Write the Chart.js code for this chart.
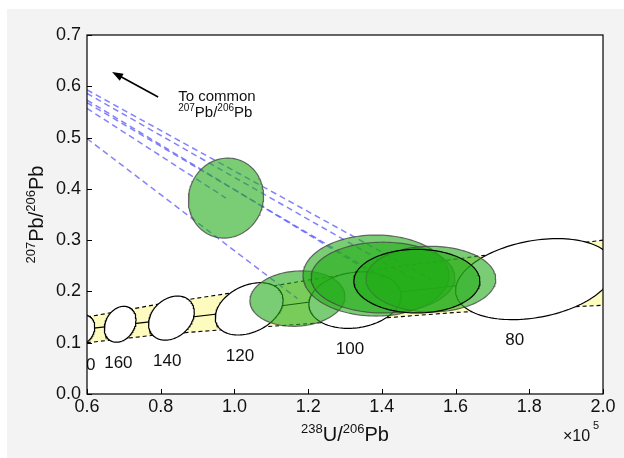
<!DOCTYPE html>
<html>
<head>
<meta charset="utf-8">
<script src="https://cdn.jsdelivr.net/npm/chart.js@4.4.1/dist/chart.umd.min.js"></script>
<style>
  html, body { margin: 0; padding: 0; background: #fff; }
  #wrap { width: 624px; height: 458px; }
</style>
</head>
<body>
<div id="wrap"><canvas id="tw"></canvas></div>
<script>
// Tera-Wasserburg concordia with common-Pb projections

// ─── Data ─────────────────────────────────────────────────────────────────────

const xTickValues = [0.6, 0.8, 1.0, 1.2, 1.4, 1.6, 1.8, 2.0];
const yTickValues = [0.0, 0.1, 0.2, 0.3, 0.4, 0.5, 0.6, 0.7];

// concordia envelope and centre line (x in units of 1e5)
const bandX     = [0.6, 0.8, 1.0, 1.2, 1.4, 1.6, 1.8, 2.0];
const bandUpper = [0.150, 0.176, 0.198, 0.222, 0.244, 0.263, 0.282, 0.300];
const bandLower = [0.100, 0.116, 0.127, 0.137, 0.148, 0.159, 0.166, 0.173];
const bandMid   = [0.127, 0.143, 0.160, 0.179, 0.195, 0.211, 0.224, 0.236];

// age markers on the concordia
const ages   = [180, 160, 140, 120, 100, 80];
const ageX   = [0.586, 0.690, 0.829, 1.040, 1.327, 1.815];
const ageY   = [0.125, 0.136, 0.148, 0.166, 0.183, 0.224];
const ageSx  = [0.035, 0.043, 0.062, 0.092, 0.125, 0.215];
const ageSy  = [0.029, 0.035, 0.043, 0.051, 0.055, 0.079];
const ageRho = [0.20, 0.24, 0.27, 0.33, 0.15, 0.28];

// analyses (error ellipses)
const spotX   = [0.977, 1.171, 1.384, 1.403, 1.495, 1.533];
const spotY   = [0.382, 0.186, 0.231, 0.227, 0.220, 0.224];
const spotSx  = [0.102, 0.129, 0.198, 0.195, 0.171, 0.176];
const spotSy  = [0.078, 0.054, 0.079, 0.069, 0.062, 0.064];
const spotRho = [0.05, 0.08, 0.0, 0.0, 0.0, 0.0];

// projection towards common Pb: y reached at the left axis for each analysis
const commonX = 0.6;
const commonY = [0.557, 0.498, 0.573, 0.568, 0.586, 0.593];

// arrow annotation
const arrowTail = [0.793, 0.579];
const arrowHead = [0.668, 0.628];

const highlightSpot = 4;   // the one drawn with a black rim

// ─── Helpers ──────────────────────────────────────────────────────────────────

const FONT = "'Liberation Sans', Arial, sans-serif";

function ellipsePts(cx, cy, sx, sy, rho, n = 140) {
  const pts = [];
  const k = Math.sqrt(1 - rho * rho);
  for (let i = 0; i <= n; i++) {
    const t = (i / n) * Math.PI * 2;
    pts.push({ x: cx + sx * Math.cos(t), y: cy + sy * (rho * Math.cos(t) + k * Math.sin(t)) });
  }
  return pts;
}

function zip(xs, ys) {
  return xs.map((x, i) => ({ x, y: ys[i] }));
}

function drawRich(ctx, parts, x, y, size, supSize, align) {
  const w = parts.reduce((s, p) => {
    ctx.font = `${p.sup ? supSize : size}px ${FONT}`;
    return s + ctx.measureText(p.t).width;
  }, 0);
  let cx = align === 'center' ? x - w / 2 : x;
  ctx.textAlign = 'left';
  ctx.textBaseline = 'alphabetic';
  parts.forEach(p => {
    ctx.font = `${p.sup ? supSize : size}px ${FONT}`;
    ctx.fillText(p.t, cx, p.sup ? y - size * 0.38 : y);
    cx += ctx.measureText(p.t).width;
  });
}

// ─── Datasets ─────────────────────────────────────────────────────────────────

const datasets = [];

datasets.push({
  data: zip(bandX, bandUpper),
  borderColor: '#000', borderWidth: 1.1, borderDash: [4, 3],
  backgroundColor: '#fdfbbe', fill: 1, order: 100,
});
datasets.push({
  data: zip(bandX, bandLower),
  borderColor: '#000', borderWidth: 1.1, borderDash: [4, 3],
  fill: false, order: 99,
});
datasets.push({
  data: zip(bandX, bandMid),
  borderColor: '#000', borderWidth: 1.1, fill: false, order: 98,
});

ages.forEach((a, i) => {
  datasets.push({
    data: ellipsePts(ageX[i], ageY[i], ageSx[i], ageSy[i], ageRho[i]),
    borderColor: '#000', borderWidth: 1.2,
    backgroundColor: '#ffffff', fill: 'shape', order: 80,
  });
});

spotX.forEach((x, i) => {
  datasets.push({
    data: [{ x: commonX, y: commonY[i] }, { x, y: spotY[i] }],
    borderColor: 'rgba(95,95,250,0.78)', borderWidth: 1.5, borderDash: [6, 4],
    fill: false, order: 70,
  });
});

spotX.forEach((x, i) => {
  const hi = i === highlightSpot;
  datasets.push({
    data: ellipsePts(x, spotY[i], spotSx[i], spotSy[i], spotRho[i]),
    borderColor: hi ? '#000' : 'rgba(70,70,70,0.8)', borderWidth: 1.2,
    backgroundColor: 'rgba(34,172,24,0.6)', fill: 'shape', order: hi ? 1 : 20 - i,
  });
});

// ─── Decorations ──────────────────────────────────────────────────────────────

const decor = {
  id: 'decor',
  beforeDraw(chart) {
    const { ctx, chartArea: a } = chart;
    ctx.save();
    ctx.fillStyle = '#f3f3f3';
    ctx.fillRect(7, 9, chart.width - 7, chart.height - 9);
    ctx.fillStyle = '#fff';
    ctx.fillRect(a.left, a.top, a.right - a.left, a.bottom - a.top);
    ctx.restore();
  },
  afterDraw(chart) {
    const { ctx, chartArea: a, scales: { x, y } } = chart;
    ctx.save();

    // age labels, clipped to the plot
    ctx.save();
    ctx.beginPath();
    ctx.rect(a.left, a.top, a.right - a.left, a.bottom - a.top);
    ctx.clip();
    ctx.fillStyle = '#111';
    ctx.font = `17px ${FONT}`;
    ctx.textAlign = 'center';
    ctx.textBaseline = 'middle';
    ages.forEach((age, i) => {
      const bx = x.getPixelForValue(ageX[i] - ageRho[i] * ageSx[i]);
      const by = y.getPixelForValue(ageY[i] - ageSy[i]);
      ctx.fillText(String(age), bx + 2, by + 21);
    });
    ctx.restore();

    // frame + inward ticks
    ctx.strokeStyle = '#000';
    ctx.lineWidth = 1.2;
    ctx.strokeRect(a.left, a.top, a.right - a.left, a.bottom - a.top);
    ctx.lineWidth = 1;
    ctx.beginPath();
    xTickValues.forEach(v => {
      const px = Math.round(x.getPixelForValue(v)) + 0.5;
      ctx.moveTo(px, a.bottom);
      ctx.lineTo(px, a.bottom - 5);
    });
    yTickValues.forEach(v => {
      const py = Math.round(y.getPixelForValue(v)) + 0.5;
      ctx.moveTo(a.left, py);
      ctx.lineTo(a.left + 5, py);
    });
    ctx.stroke();

    // arrow to common Pb
    const tx = x.getPixelForValue(arrowTail[0]), ty = y.getPixelForValue(arrowTail[1]);
    const hx = x.getPixelForValue(arrowHead[0]), hy = y.getPixelForValue(arrowHead[1]);
    const ang = Math.atan2(hy - ty, hx - tx);
    ctx.strokeStyle = '#000';
    ctx.lineWidth = 1.6;
    ctx.beginPath();
    ctx.moveTo(tx, ty);
    ctx.lineTo(hx - 6 * Math.cos(ang), hy - 6 * Math.sin(ang));
    ctx.stroke();
    ctx.fillStyle = '#000';
    ctx.beginPath();
    ctx.moveTo(hx, hy);
    ctx.lineTo(hx - 11 * Math.cos(ang) + 4 * Math.sin(ang), hy - 11 * Math.sin(ang) - 4 * Math.cos(ang));
    ctx.lineTo(hx - 11 * Math.cos(ang) - 4 * Math.sin(ang), hy - 11 * Math.sin(ang) + 4 * Math.cos(ang));
    ctx.closePath();
    ctx.fill();

    ctx.fillStyle = '#111';
    ctx.font = `15px ${FONT}`;
    ctx.textAlign = 'left';
    ctx.textBaseline = 'alphabetic';
    ctx.fillText('To common', tx + 20, ty + 3.5);
    drawRich(ctx, [{ t: '207', sup: true }, { t: 'Pb/' }, { t: '206', sup: true }, { t: 'Pb' }],
      tx + 20, ty + 20, 15, 10, 'left');

    // axis titles
    const cx = (a.left + a.right) / 2;
    drawRich(ctx, [{ t: '238', sup: true }, { t: 'U/' }, { t: '206', sup: true }, { t: 'Pb' }],
      cx, a.bottom + 47, 20, 13, 'center');

    ctx.save();
    ctx.translate(43, (a.top + a.bottom) / 2);
    ctx.rotate(-Math.PI / 2);
    drawRich(ctx, [{ t: '207', sup: true }, { t: 'Pb/' }, { t: '206', sup: true }, { t: 'Pb' }],
      0, 0, 20, 13, 'center');
    ctx.restore();

    // exponent
    ctx.font = `16px ${FONT}`;
    ctx.fillText('\u00d710', a.right - 40, a.bottom + 47);
    ctx.font = `11px ${FONT}`;
    ctx.fillText('5', a.right - 10, a.bottom + 35);

    ctx.restore();
  },
};

// ─── Chart ────────────────────────────────────────────────────────────────────

new Chart(document.getElementById('tw'), {
  type: 'line',
  data: { datasets },
  options: {
    responsive: true,
    maintainAspectRatio: false,
    animation: false,
    events: [],
    layout: { padding: { top: 35, right: 21, left: 0, bottom: 0 } },
    elements: { point: { radius: 0 }, line: { tension: 0 } },
    plugins: { legend: { display: false }, tooltip: { enabled: false } },
    scales: {
      x: {
        type: 'linear', min: 0.6, max: 2.0,
        afterBuildTicks: s => { s.ticks = xTickValues.map(v => ({ value: v })); },
        afterFit: s => { s.height = 64; },
        grid: { display: false, drawTicks: false },
        border: { display: false },
        ticks: { color: '#111', font: { family: FONT, size: 18 }, padding: 2,
                 maxRotation: 0, callback: v => v.toFixed(1) },
      },
      y: {
        type: 'linear', min: 0, max: 0.7,
        afterBuildTicks: s => { s.ticks = yTickValues.map(v => ({ value: v })); },
        afterFit: s => { s.width = 87; },
        grid: { display: false, drawTicks: false },
        border: { display: false },
        ticks: { color: '#111', font: { family: FONT, size: 18 }, padding: 6,
                 callback: v => v.toFixed(1) },
      },
    },
  },
  plugins: [decor],
});
</script>
</body>
</html>
